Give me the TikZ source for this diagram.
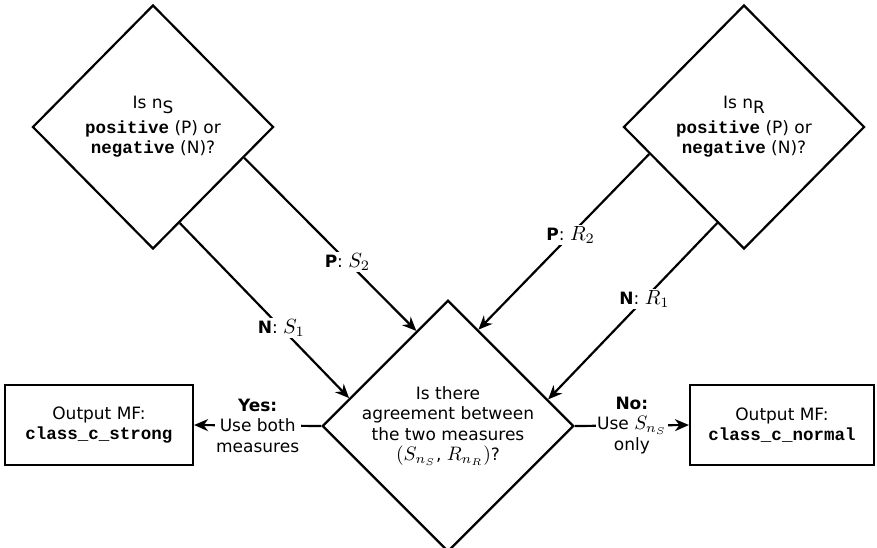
\documentclass[tikz,border=0pt]{standalone}
\usepackage{fontspec}
\usepackage{graphicx}
\setmainfont{DejaVu Sans}
\setmonofont{Liberation Mono}
\usetikzlibrary{shapes.geometric,arrows.meta,calc}
\newcommand\myfs{\fontsize{17}{20.5}\selectfont}
\newcommand\mycode[1]{{\fontsize{17.5}{20.5}\selectfont\ttfamily\bfseries #1}}
\newcommand\mymath[1]{\scalebox{1.95}{\normalsize$#1$}}
\newcommand\mybigmath[1]{\scalebox{2.05}{\normalsize$#1$}}
\begin{document}
\begin{tikzpicture}[x=1pt,y=-1pt,line width=2.2pt,
  dia/.style={draw,diamond,inner sep=0pt,align=center,font=\myfs,
    minimum width=241pt,minimum height=244pt},
  outbox/.style={draw,rectangle,inner sep=0pt,align=center,font=\myfs,minimum height=80pt},
  arr/.style={-{Stealth[length=14pt,width=12pt]}},
  lbl/.style={fill=white,inner sep=1.5pt,align=center,font=\myfs}]
\useasboundingbox (0,0) rectangle (877,548);
\node[dia] (ls) at (153,127) {Is n\raisebox{-5pt}{S}\\[4pt]\mycode{positive} (P) or\\\mycode{negative} (N)?};
\node[dia] (rs) at (744,127) {Is n\raisebox{-5pt}{R}\\[4pt]\mycode{positive} (P) or\\\mycode{negative} (N)?};
\node[dia,minimum height=242pt] (ag) at (448,426) {Is there\\agreement between\\the two measures\\\mymath{(S_{n_S}}, \mymath{R_{n_R})}?};
\node[outbox,minimum width=188pt] (lb) at (99,425) {Output MF:\\\mycode{class\_c\_strong}};
\node[outbox,minimum width=184pt] (rb) at (782,425) {Output MF:\\\mycode{class\_c\_normal}};
\coordinate (psa) at ($(ls.east)!0.25!(ls.south)$);
\coordinate (psb) at ($(ag.west)!0.75!(ag.north)$);
\coordinate (nsa) at ($(ls.east)!0.78!(ls.south)$);
\coordinate (nsb) at ($(ag.west)!0.22!(ag.north)$);
\coordinate (pra) at ($(rs.west)!0.22!(rs.south)$);
\coordinate (prb) at ($(ag.east)!0.76!(ag.north)$);
\coordinate (nra) at ($(rs.west)!0.78!(rs.south)$);
\coordinate (nrb) at ($(ag.east)!0.21!(ag.north)$);
\draw[arr] (psa) -- node[lbl,pos=0.6] {\textbf{P}: \mybigmath{S_2}} (psb);
\draw[arr] (nsa) -- node[lbl,pos=0.6] {\textbf{N}: \mybigmath{S_1}} (nsb);
\draw[arr] (pra) -- node[lbl,pos=0.46] {\textbf{P}: \mybigmath{R_2}} (prb);
\draw[arr] (nra) -- node[lbl,pos=0.43] {\textbf{N}: \mybigmath{R_1}} (nrb);
\draw[arr] (ag.west) -- node[lbl] {\textbf{Yes:}\\Use both\\measures} (lb.east);
\draw[arr] (ag.east) -- node[lbl] {\textbf{No:}\\Use \mymath{S_{n_S}}\\only} (rb.west);
\end{tikzpicture}
\end{document}
